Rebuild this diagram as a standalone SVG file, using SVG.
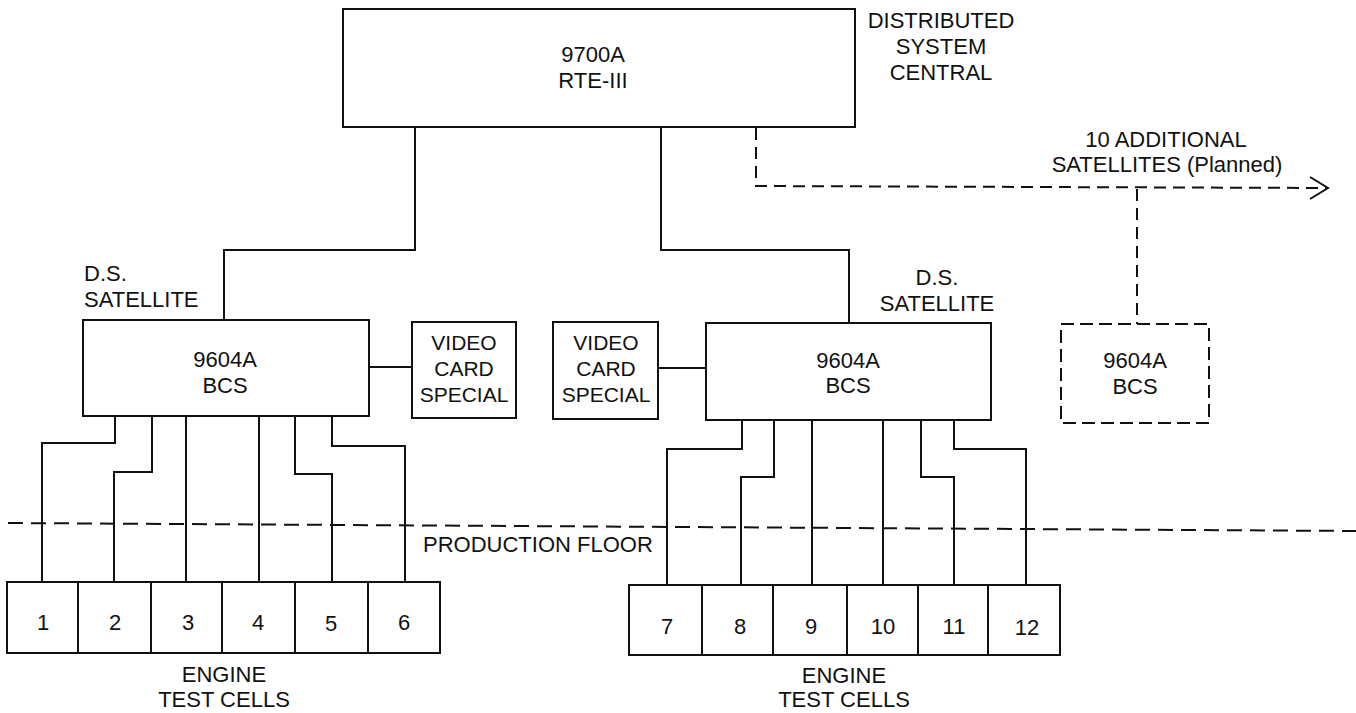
<svg xmlns="http://www.w3.org/2000/svg" width="1356" height="713" viewBox="0 0 1356 713">
<style>
  text { font-family: "Liberation Sans", Arial, sans-serif; font-size: 22px; fill: #111; }
  .c { text-anchor: middle; }
  .s { font-size: 21px; }
  .box { fill: none; stroke: #111; stroke-width: 2; }
  .dbox { fill: none; stroke: #111; stroke-width: 2; stroke-dasharray: 13 6; }
  .ln { fill: none; stroke: #111; stroke-width: 2; }
  .dl { fill: none; stroke: #111; stroke-width: 2; stroke-dasharray: 12 7; }
  .floor { fill: none; stroke: #111; stroke-width: 2; stroke-dasharray: 15 8; }
</style>
<rect width="1356" height="713" fill="#fff"/>

<g id="central">
  <rect class="box" x="343" y="9" width="512" height="118"/>
  <text class="c" x="593" y="62">9700A</text>
  <text class="c" x="593" y="88">RTE-III</text>
</g>
<g id="central-label">
  <text class="c" x="941" y="28">DISTRIBUTED</text>
  <text class="c" x="941" y="54">SYSTEM</text>
  <text class="c" x="941" y="80">CENTRAL</text>
</g>

<g id="planned-label">
  <text class="c" x="1166" y="147">10 ADDITIONAL</text>
  <text class="c" x="1167" y="172">SATELLITES (Planned)</text>
</g>

<g id="sat-left">
  <rect class="box" x="83" y="320" width="286" height="96"/>
  <text class="c" x="225" y="367">9604A</text>
  <text class="c" x="225" y="393">BCS</text>
</g>
<g id="sat-left-label">
  <text x="84" y="281">D.S.</text>
  <text x="84" y="307">SATELLITE</text>
</g>

<g id="video-left">
  <rect class="box" x="412" y="322" width="104" height="96"/>
  <text class="c s" x="464" y="350">VIDEO</text>
  <text class="c s" x="464" y="376">CARD</text>
  <text class="c s" x="464" y="402">SPECIAL</text>
</g>

<g id="video-right">
  <rect class="box" x="553" y="322" width="105" height="97"/>
  <text class="c s" x="606" y="350">VIDEO</text>
  <text class="c s" x="606" y="376">CARD</text>
  <text class="c s" x="606" y="402">SPECIAL</text>
</g>

<g id="sat-right">
  <rect class="box" x="706" y="323" width="285" height="97"/>
  <text class="c" x="848" y="368">9604A</text>
  <text class="c" x="848" y="393">BCS</text>
</g>
<g id="sat-right-label">
  <text class="c" x="937" y="285">D.S.</text>
  <text class="c" x="937" y="311">SATELLITE</text>
</g>

<g id="sat-planned">
  <rect class="dbox" x="1061" y="324" width="148" height="99"/>
  <text class="c" x="1135" y="368">9604A</text>
  <text class="c" x="1135" y="394">BCS</text>
</g>

<g id="cells-left">
  <rect class="box" x="7" y="582" width="71" height="71"/>
  <rect class="box" x="78" y="582" width="73" height="71"/>
  <rect class="box" x="151" y="582" width="71" height="71"/>
  <rect class="box" x="222" y="582" width="73" height="71"/>
  <rect class="box" x="295" y="582" width="73" height="71"/>
  <rect class="box" x="368" y="582" width="72" height="71"/>
  <text class="c" x="43" y="630">1</text>
  <text class="c" x="115" y="630">2</text>
  <text class="c" x="188" y="630">3</text>
  <text class="c" x="258" y="630">4</text>
  <text class="c" x="331" y="631">5</text>
  <text class="c" x="404" y="630">6</text>
  <text class="c" x="224" y="682">ENGINE</text>
  <text class="c" x="224" y="707">TEST CELLS</text>
</g>

<g id="cells-right">
  <rect class="box" x="629" y="585" width="73" height="70"/>
  <rect class="box" x="702" y="585" width="71" height="70"/>
  <rect class="box" x="773" y="585" width="74" height="70"/>
  <rect class="box" x="847" y="585" width="71" height="70"/>
  <rect class="box" x="918" y="585" width="70" height="70"/>
  <rect class="box" x="988" y="585" width="72" height="70"/>
  <text class="c" x="667" y="634">7</text>
  <text class="c" x="740" y="634">8</text>
  <text class="c" x="811" y="634">9</text>
  <text class="c" x="883" y="634">10</text>
  <text class="c" x="954" y="634">11</text>
  <text class="c" x="1027" y="635">12</text>
  <text class="c" x="844" y="683">ENGINE</text>
  <text class="c" x="844" y="707">TEST CELLS</text>
</g>

<g id="floor">
  <line class="floor" x1="8" y1="523" x2="1356" y2="531"/>
  <text x="423" y="552">PRODUCTION FLOOR</text>
</g>

<g id="connectors">
  <polyline class="ln" points="415,127 415,250 224,250 224,320"/>
  <polyline class="ln" points="661,127 661,250 849,250 849,323"/>
  <line class="ln" x1="369" y1="367" x2="412" y2="367"/>
  <line class="ln" x1="658" y1="368" x2="706" y2="368"/>
  <polyline class="dl" points="756,128 756,186 1326,188"/>
  <polyline class="ln" points="1310,177 1328,188 1310,199"/>
  <polyline class="dl" points="1137,189 1137,324"/>

  <polyline class="ln" points="115,416 115,443 42,443 42,582"/>
  <polyline class="ln" points="152,416 152,472 114,472 114,582"/>
  <polyline class="ln" points="186,416 186,582"/>
  <polyline class="ln" points="259,416 259,582"/>
  <polyline class="ln" points="295,416 295,474 332,474 332,582"/>
  <polyline class="ln" points="332,416 332,446 405,446 405,582"/>

  <polyline class="ln" points="742,420 742,449 667,449 667,585"/>
  <polyline class="ln" points="774,420 774,477 741,477 741,585"/>
  <polyline class="ln" points="812,420 812,585"/>
  <polyline class="ln" points="883,420 883,585"/>
  <polyline class="ln" points="921,420 921,477 954,477 954,585"/>
  <polyline class="ln" points="954,420 954,449 1026,449 1026,585"/>
</g>
</svg>
